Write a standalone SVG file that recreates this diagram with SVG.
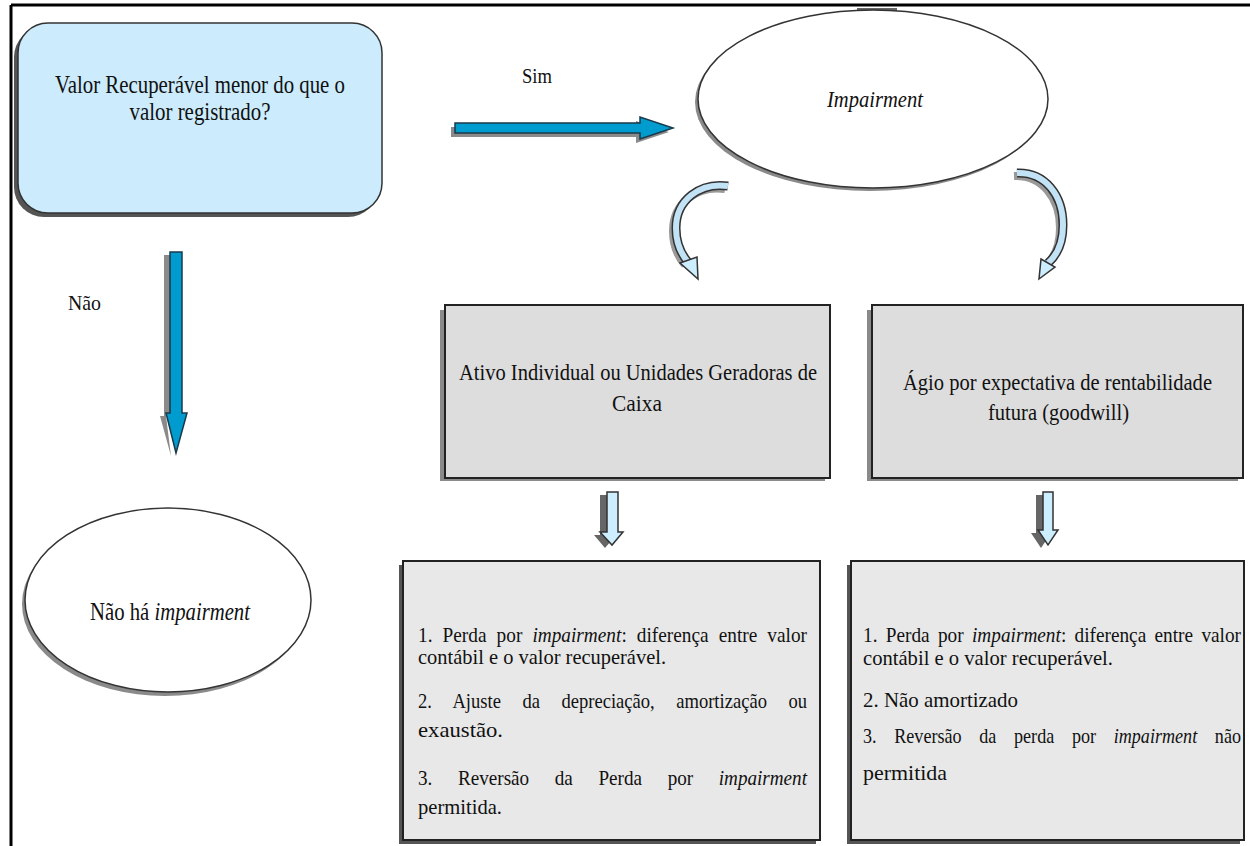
<svg xmlns="http://www.w3.org/2000/svg" width="1250" height="846" viewBox="0 0 1250 846" font-family="'Liberation Serif', 'Times New Roman', serif">
<style>
text{font-family:'Liberation Serif','Times New Roman',serif;fill:#111;}
.it{font-style:italic;}
.shadow{fill:#8a8a8a;}
.dshadow{fill:#555;}
.box{fill:#dddddd;stroke:#222;stroke-width:2;}
.box2{fill:#e8e8e8;stroke:#222;stroke-width:2;}
.ell{fill:#fff;stroke:#333;stroke-width:1.5;}
.bluearrow{fill:#009ccf;stroke:#1a3a4a;stroke-width:1.5;}
.lightarrow{fill:#cdeefe;stroke:#333;stroke-width:1.5;}
</style>
<rect width="1250" height="846" fill="#fff"/>
<path d="M11 5 H1250 M11 5 V846" stroke="#000" stroke-width="3" fill="none"/>

<g id="n-question">
<rect x="14" y="27" width="364" height="190" rx="30" class="dshadow"/>
<rect x="18" y="23" width="364" height="190" rx="30" fill="#ccecfd" stroke="#333" stroke-width="1.5"/>
<text x="200" y="93" font-size="26" text-anchor="middle" textLength="290" lengthAdjust="spacingAndGlyphs">Valor Recuperável menor do que o</text>
<text x="200" y="120" font-size="26" text-anchor="middle" textLength="141" lengthAdjust="spacingAndGlyphs">valor registrado?</text>
</g>

<g id="n-impairment">
<rect x="857" y="8" width="40" height="4" fill="#666"/>
<ellipse cx="870" cy="102" rx="175" ry="89" class="shadow"/>
<ellipse cx="873" cy="99" rx="175" ry="89" class="ell"/>
<text x="827" y="107" font-size="23" class="it" textLength="96" lengthAdjust="spacingAndGlyphs">Impairment</text>
</g>

<g id="n-nao-ha">
<ellipse cx="165" cy="604" rx="143" ry="92" class="shadow"/>
<ellipse cx="168" cy="600" rx="143" ry="92" class="ell"/>
<text x="90" y="620" font-size="25" textLength="160" lengthAdjust="spacingAndGlyphs">Não há <tspan class="it">impairment</tspan></text>
</g>

<g id="n-ativo">
<rect x="440" y="310" width="385" height="171" class="shadow"/>
<rect x="445" y="305" width="385" height="173" class="box"/>
<text x="459" y="380" font-size="23" textLength="358" lengthAdjust="spacingAndGlyphs">Ativo Individual ou Unidades Geradoras de</text>
<text x="612" y="411" font-size="23" textLength="50" lengthAdjust="spacingAndGlyphs">Caixa</text>
</g>

<g id="n-agio">
<rect x="867" y="310" width="371" height="171" class="shadow"/>
<rect x="872" y="305" width="371" height="173" class="box"/>
<text x="903" y="390" font-size="23" textLength="309" lengthAdjust="spacingAndGlyphs">Ágio por expectativa de rentabilidade</text>
<text x="988" y="420" font-size="23" textLength="141" lengthAdjust="spacingAndGlyphs">futura (goodwill)</text>
</g>

<g id="n-result-ativo">
<rect x="399" y="565" width="417" height="279" class="dshadow"/>
<rect x="403" y="561" width="417" height="279" class="box2"/>
<text x="418" y="642" font-size="22" word-spacing="6" textLength="389" lengthAdjust="spacingAndGlyphs">1. Perda por <tspan class="it">impairment</tspan>: diferença entre valor</text>
<text x="418" y="664" font-size="22" textLength="248" lengthAdjust="spacingAndGlyphs">contábil e o valor recuperável.</text>
<text x="418" y="708" font-size="22" word-spacing="20" textLength="389" lengthAdjust="spacingAndGlyphs">2. Ajuste da depreciação, amortização ou</text>
<text x="418" y="737" font-size="22" textLength="85" lengthAdjust="spacingAndGlyphs">exaustão.</text>
<text x="418" y="785" font-size="22" word-spacing="24" textLength="389" lengthAdjust="spacingAndGlyphs">3. Reversão da Perda por <tspan class="it">impairment</tspan></text>
<text x="418" y="814" font-size="22" textLength="84" lengthAdjust="spacingAndGlyphs">permitida.</text>
</g>

<g id="n-result-agio">
<rect x="847" y="565" width="393" height="279" class="dshadow"/>
<rect x="851" y="561" width="393" height="279" class="box2"/>
<text x="863" y="642" font-size="22" word-spacing="4" textLength="378" lengthAdjust="spacingAndGlyphs">1. Perda por <tspan class="it">impairment</tspan>: diferença entre valor</text>
<text x="863" y="665" font-size="22" textLength="250" lengthAdjust="spacingAndGlyphs">contábil e o valor recuperável.</text>
<text x="863" y="707" font-size="22" textLength="155" lengthAdjust="spacingAndGlyphs">2. Não amortizado</text>
<text x="863" y="743" font-size="22" word-spacing="16" textLength="378" lengthAdjust="spacingAndGlyphs">3. Reversão da perda por <tspan class="it">impairment</tspan> não</text>
<text x="863" y="780" font-size="22" textLength="84" lengthAdjust="spacingAndGlyphs">permitida</text>
</g>

<g id="connectors">
<polygon points="451,127 636,127 636,121 669,132 636,143 636,137 451,137" class="shadow"/>
<polygon points="455,123 640,123 640,117 673,128 640,139 640,133 455,133" class="bluearrow"/>
<text x="522" y="83" font-size="22" textLength="30" lengthAdjust="spacingAndGlyphs">Sim</text>
<polygon points="164,255 170,255 170,416 166,416 171,456 160,416 164,416" class="shadow"/>
<polygon points="170,252 182,252 182,413 187,413 176,453 166,413 170,413" class="bluearrow"/>
<text x="68" y="310" font-size="22" textLength="33" lengthAdjust="spacingAndGlyphs">Não</text>
<path d="M725 189 C697 185 673 203 673 231 C673 248 679 258 685 265" fill="none" stroke="#999" stroke-width="8"/>
<path d="M728 186 C700 182 676 200 676 228 C676 245 682 255 688 262" fill="none" stroke="#333" stroke-width="9"/>
<path d="M728 186 C700 182 676 200 676 228 C676 245 682 255 688 262" fill="none" stroke="#c2e3f6" stroke-width="6"/>
<polygon points="680,263 697,257 698,279" class="lightarrow"/>
<path d="M1014 176 C1042 175 1060 198 1060 228 C1060 248 1052 260 1045 266" fill="none" stroke="#999" stroke-width="8"/>
<path d="M1017 173 C1045 172 1063 195 1063 225 C1063 245 1055 257 1048 263" fill="none" stroke="#333" stroke-width="9"/>
<path d="M1017 173 C1045 172 1063 195 1063 225 C1063 245 1055 257 1048 263" fill="none" stroke="#c2e3f6" stroke-width="6"/>
<polygon points="1041,259 1055,267 1039,279" class="lightarrow"/>
<polygon points="600,495 611,495 611,535 616,535 605,548 594,535 600,535" fill="#666"/>
<polygon points="607,492 618,492 618,532 623,532 612,545 600,532 607,532" class="lightarrow"/>
<polygon points="1036,495 1046,495 1046,533 1051,533 1041,548 1031,533 1036,533" fill="#666"/>
<polygon points="1043,492 1053,492 1053,530 1058,530 1048,545 1038,530 1043,530" class="lightarrow"/>
</g>
</svg>
